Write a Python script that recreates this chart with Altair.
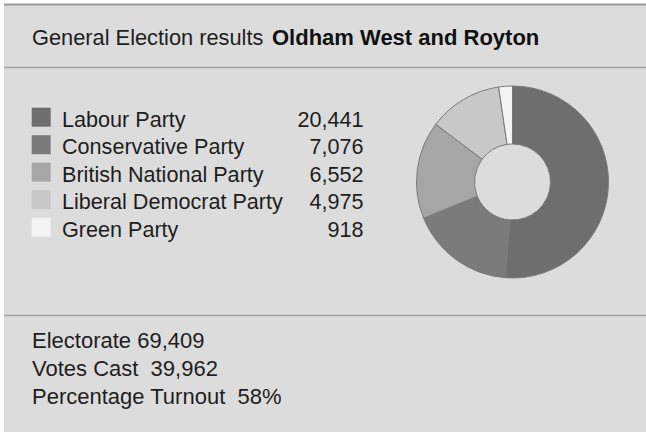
import altair as alt
import pandas as pd

# ---- data ----
parties = ["Labour Party", "Conservative Party", "British National Party",
           "Liberal Democrat Party", "Green Party"]
votes = [20441, 7076, 6552, 4975, 918]
shades = ["#6e6e6e", "#7b7b7b", "#a6a6a6", "#c8c8c8", "#f3f3f3"]

title_regular = "General Election results"
title_bold = "Oldham West and Royton"

summary_labels = ["Electorate", "Votes Cast\u00a0", "Percentage Turnout\u00a0"]
summary_values = ["69,409", "39,962", "58%"]

W, H = 646, 432
FONT = "Liberation Sans"
TXT = "#1e1e1e"

df = pd.DataFrame({
    "party": parties,
    "votes": votes,
    "order": list(range(len(parties))),
    "label": [f"{v:,}" for v in votes],
})
summary = pd.DataFrame({
    "key": summary_labels,
    "line": [f"{k} {v}" for k, v in zip(summary_labels, summary_values)],
})
one = pd.DataFrame({"a": [0]})

color_scale = alt.Scale(domain=parties, range=shades)
legend_y = alt.Y("party:N", sort=parties, axis=None,
                 scale=alt.Scale(type="point", range=[126.7, 236.7], padding=0))

bg = alt.Chart(one).mark_rect(fill="#dcdcdc").encode(
    x=alt.value(4), x2=alt.value(W), y=alt.value(4), y2=alt.value(H))

top_line = alt.Chart(one).mark_rule(stroke="#9a9a9a", strokeWidth=2).encode(
    x=alt.value(4), x2=alt.value(W), y=alt.value(4.5))
line1 = alt.Chart(one).mark_rule(stroke="#a0a0a0", strokeWidth=1.5).encode(
    x=alt.value(4), x2=alt.value(W), y=alt.value(67.5))
line2 = alt.Chart(one).mark_rule(stroke="#a0a0a0", strokeWidth=1.5).encode(
    x=alt.value(4), x2=alt.value(W), y=alt.value(315.5))

t1 = alt.Chart(one).mark_text(align="left", baseline="alphabetic", font=FONT,
                              fontSize=21.8, color=TXT).encode(
    x=alt.value(32), y=alt.value(45), text=alt.value(title_regular))
t2 = alt.Chart(one).mark_text(align="left", baseline="alphabetic", font=FONT,
                              fontSize=22, fontWeight="bold", color="#111").encode(
    x=alt.value(272), y=alt.value(45), text=alt.value(title_bold))

swatch = alt.Chart(df).mark_square(size=361, opacity=1, yOffset=-9.5).encode(
    x=alt.value(41.2), y=legend_y,
    color=alt.Color("party:N", scale=color_scale, legend=None))

names = alt.Chart(df).mark_text(align="left", baseline="alphabetic", font=FONT,
                                fontSize=21.6, color=TXT).encode(
    x=alt.value(62), y=legend_y, text="party:N")

nums = alt.Chart(df).mark_text(align="right", baseline="alphabetic", font=FONT,
                               fontSize=21.6, color=TXT).encode(
    x=alt.value(363.5), y=legend_y, text="label:N")

donut = alt.Chart(df).mark_arc(innerRadius=38, outerRadius=96, stroke="#7a7a7a",
                               strokeWidth=1).encode(
    theta=alt.Theta("votes:Q", stack=True),
    color=alt.Color("party:N", scale=color_scale, legend=None),
    order=alt.Order("order:Q"),
    x=alt.value(512.5), y=alt.value(182))

summ = alt.Chart(summary).mark_text(align="left", baseline="alphabetic", font=FONT,
                                    fontSize=22, color=TXT).encode(
    x=alt.value(32),
    y=alt.Y("key:N", sort=summary_labels, axis=None,
            scale=alt.Scale(type="point", range=[348, 404], padding=0)),
    text="line:N")

legend_layer = alt.layer(swatch, names, nums)

chart = alt.layer(bg, top_line, line1, line2, t1, t2, legend_layer, donut, summ).resolve_scale(
    y="independent"
).properties(
    width=W, height=H, autosize=alt.AutoSizeParams(type="none"), padding=0,
    background="white"
).configure_view(stroke=None)

chart.save("out.html", embed_options={"renderer": "svg", "actions": False})
